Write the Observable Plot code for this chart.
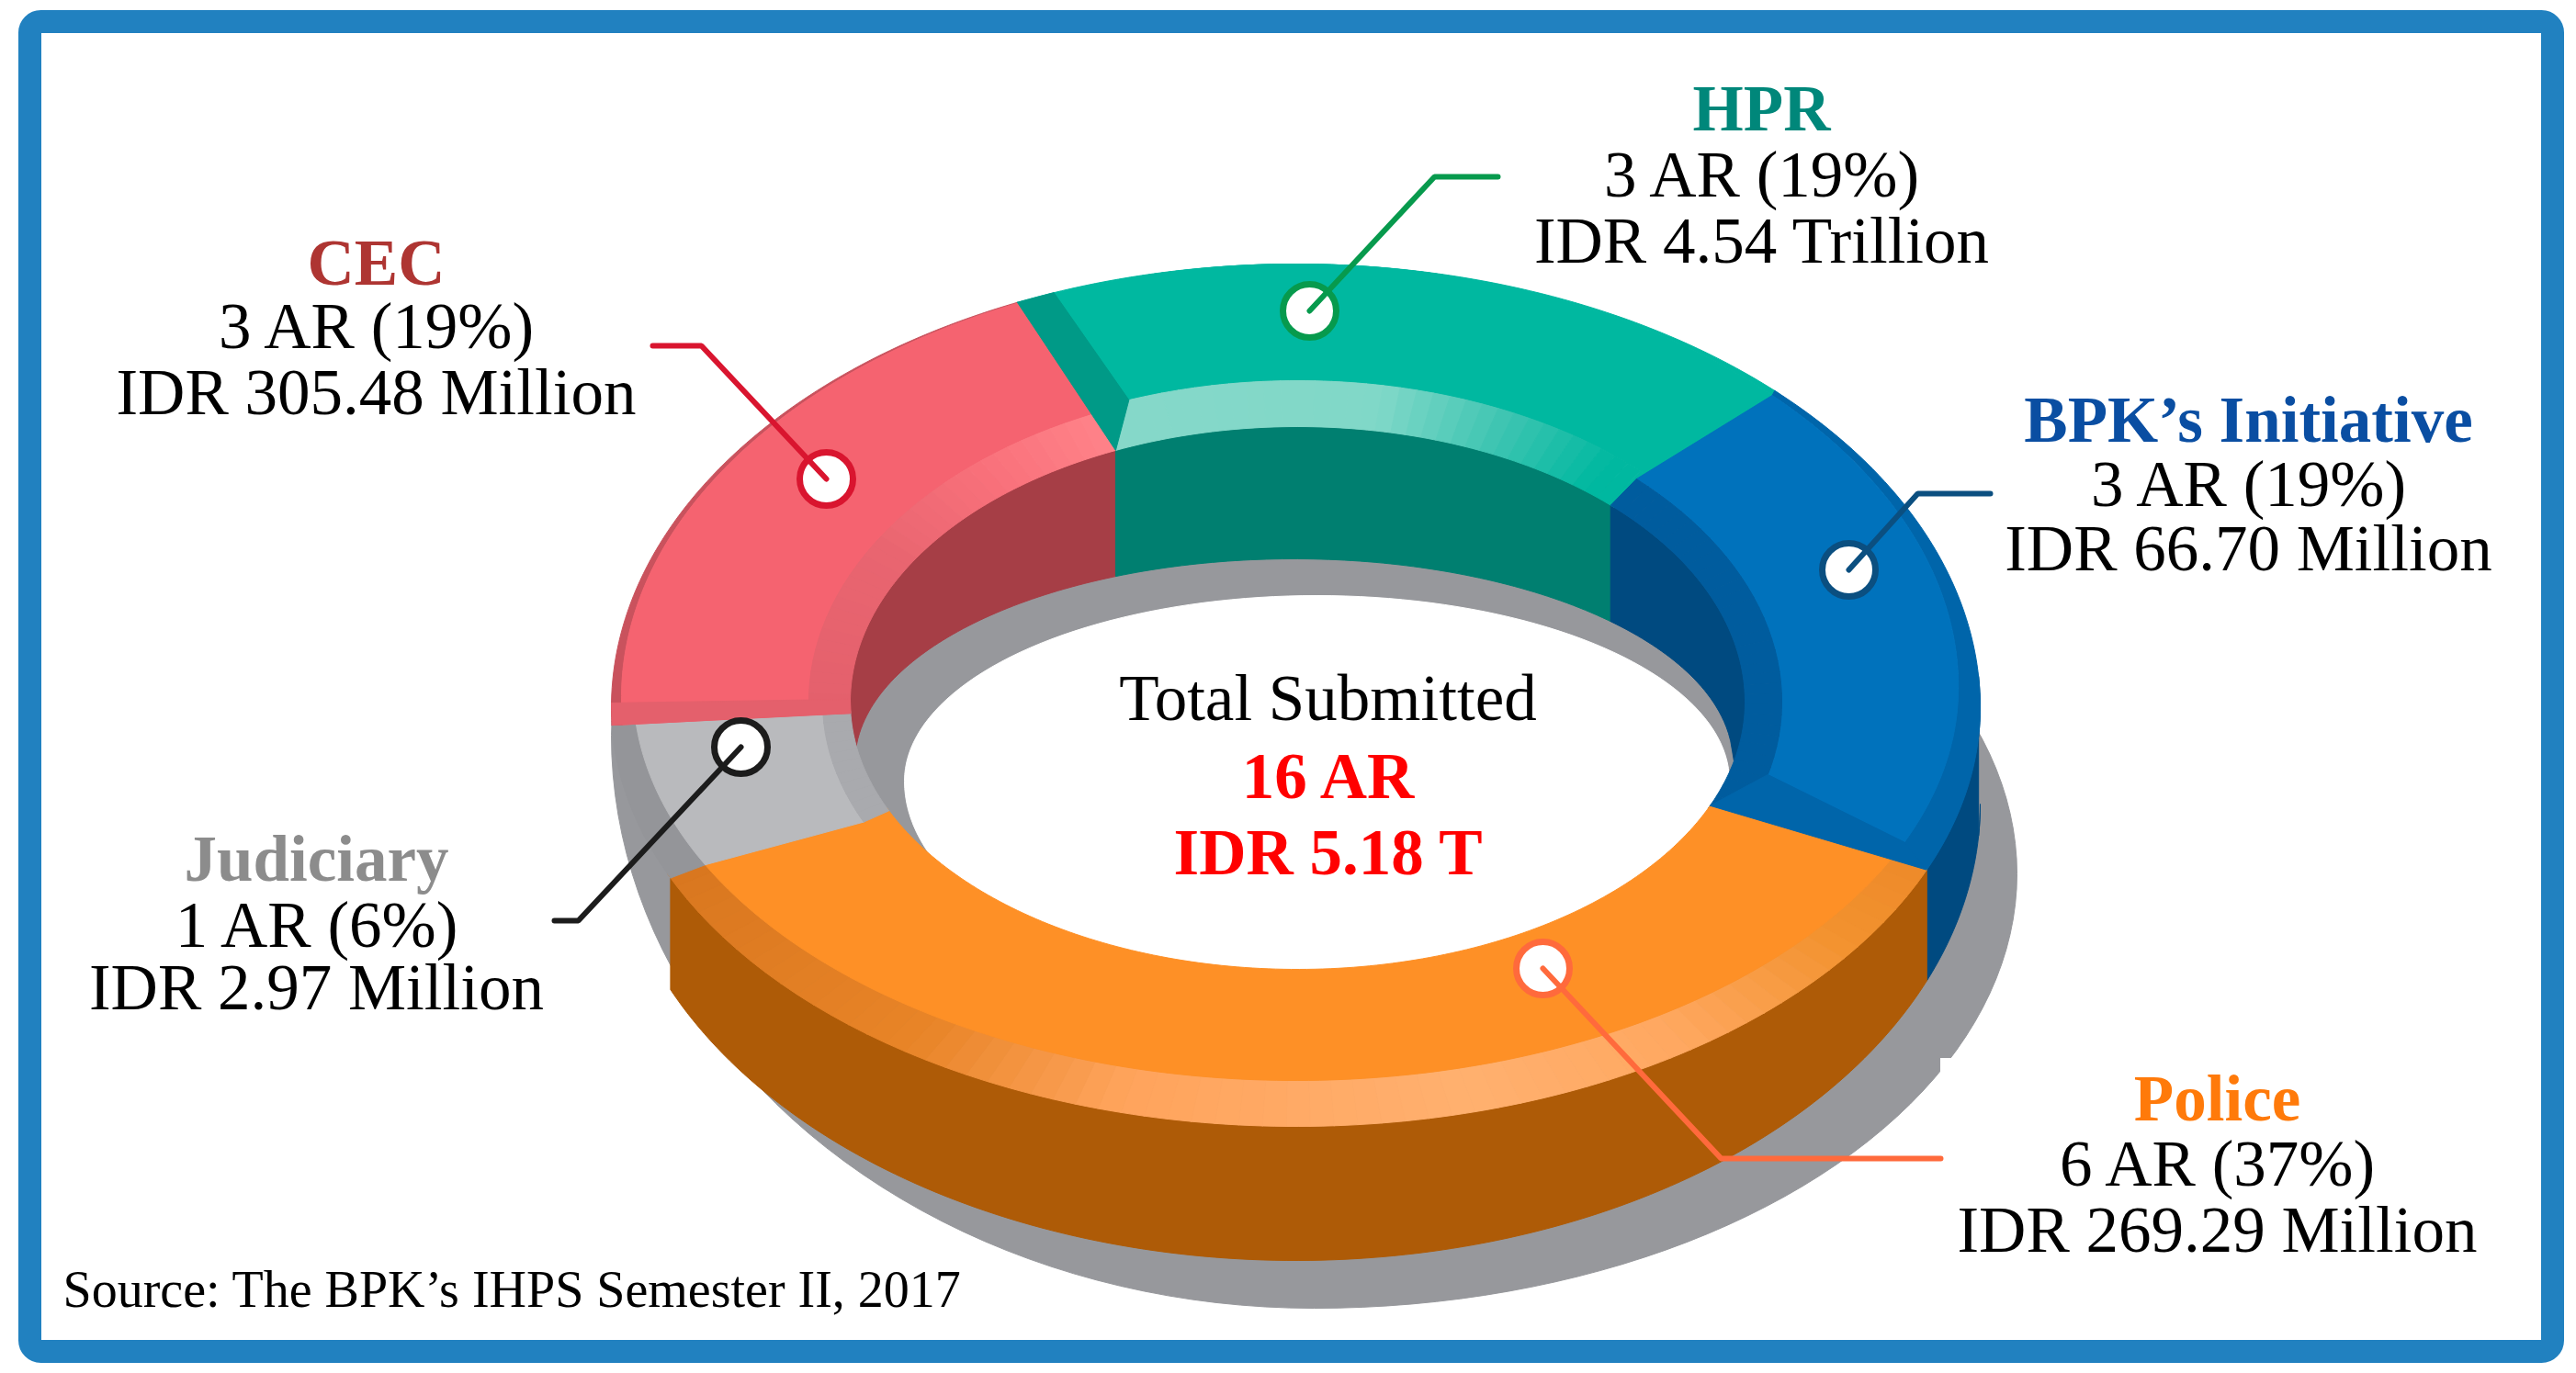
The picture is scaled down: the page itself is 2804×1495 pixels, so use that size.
<!DOCTYPE html>
<html><head><meta charset="utf-8">
<script src="https://cdn.jsdelivr.net/npm/d3@7"></script>
<script src="https://cdn.jsdelivr.net/npm/@observablehq/plot@0.6"></script>
<style>html,body{margin:0;padding:0;background:#fff}svg{display:block}</style>
</head><body>
<script>
// ---- values ----
const categories = ["HPR", "BPK’s Initiative", "Police", "Judiciary", "CEC"];
const reports = [3, 3, 6, 1, 3];
const shares = [19, 19, 37, 6, 19];
const amounts = ["4.54 Trillion", "66.70 Million", "269.29 Million", "2.97 Million", "305.48 Million"];
const centerLines = ["Total Submitted", "16 AR", "IDR 5.18 T"];
const sourceNote = "Source: The BPK’s IHPS Semester II, 2017";

// ---- styling ----
const titleColors = ["#00877a", "#0a4ea2", "#ff7a0a", "#8c8c8c", "#ae3532"];
const leaderColors = ["#079a4d", "#0b4f80", "#ff6a3c", "#1c1c1c", "#d9152f"];
const flatColors = ["#00b8a0", "#0072bc", "#fe9026", "#b9babd", "#f56370"];
const edgeColors = ["#00b8a0", "#0065aa", null, "#949599", "#c9525d"];
const edgeScale = [1, 1, 1, 1, 0.45];
const wallColors = ["#007f70", "#004a80", null, "#97989c", "#a63e46"];
const innerWidths = [50, 40, 0, 30, 45];
const innerStops = [
  [[-24, 10, 25, 40, 45], ["#86d8c9", "#80d8c8", "#3fc5b2", "#00b8a0", "#00b8a0"]],
  [[44, 113], ["#005c9e", "#005c9e"]],
  null,
  [[246, 268], ["#a9aaae", "#a9aaae"]],
  [[268, 300, 320, 336], ["#e4606c", "#e96570", "#f9717b", "#ff8389"]]
];
const policeEdgeStops = [[113, 125, 145, 165, 195, 215, 246],
  ["#ee8a2a", "#f2922e", "#ffa860", "#ffb06f", "#ffa45c", "#e88427", "#d9771f"]];
const sideColors = { 1: "#004a80", 2: "#ae5b07" };

// ---- ring projection ----
const startAngle = -24;
const rad = d => d * Math.PI / 180;
const outer = { cx: 1410, rx: 745, cy: 770, ryT: 483, ryB: 456 };
const inner = { cx: 1412, rx: 487, cy: 764, ryT: 300, ryB: 291 };
const wallFoot = { cx: 1408, rx: 478, cy: 830, ry: 222 };
const sideFoot = { cx: 1410, rx: 745, cy: 875, ry: 497 };
const hole = { cx: 1433, rx: 449, cy: 850, ryT: 202, ryB: 232 };

const onEll = (e, t) => {
  const c = Math.cos(rad(t));
  return [e.cx + e.rx * Math.sin(rad(t)), e.cy - (c > 0 ? e.ryT : e.ryB) * c];
};
const flatEdge = k => t => {
  const c = Math.cos(rad(t)), w = k * Math.pow((1 - c) / 2, 1.5), v = k * (1 - c) / 2;
  return [outer.cx + (outer.rx - 70 * w) * Math.sin(rad(t)),
          outer.cy - ((c > 0 ? outer.ryT : outer.ryB) - 50 * v) * c];
};
const onInnerBand = (t, b) => onEll({ ...inner, rx: inner.rx + b, ryT: inner.ryT + b, ryB: inner.ryB + b }, t);
const footY = (e, x, sign) => e.cy + sign * e.ry * Math.sqrt(Math.max(0, 1 - ((x - e.cx) / e.rx) ** 2));
const seq = (a, b, s = 1) => { const o = d3.range(a, b, s); o.push(b); return o; };

const rows = [];
let faceId = 0;
const addFace = (pts, fill) => {
  const id = faceId++;
  for (const [x, y] of pts) rows.push({ id, x, y, fill });
  rows.push({ id, x: pts[0][0], y: pts[0][1], fill });
};
const bandPts = (a, b, f, g) => [...seq(a, b).map(f), ...seq(a, b).reverse().map(g)];

// ground shadow and hole
const shadowPts = seq(0, 360, 2).map(t => {
  const right = t <= 180, c = Math.cos(rad(t));
  const cy = right ? 951 : 800, ry = right ? 473 : (c > 0 ? 322 : 624);
  return [1430 + 765 * Math.sin(rad(t)), cy - ry * c];
});
addFace(shadowPts, "#97989c");
addFace(seq(0, 360, 2).map(t => onEll(hole, t)), "#ffffff");

// slice angles come from the shares
const spans = [];
let acc = startAngle;
shares.forEach(s => { spans.push([acc, acc + s / 100 * 360]); acc += s / 100 * 360; });

// far inner walls (seen through the hole)
[4, 0, 1].forEach(i => {
  let [a, b] = spans[i];
  if (i === 4) { a -= 360; b -= 360; }
  if (i === 1) b = 95;
  const top = seq(a, b).map(t => onEll(inner, t));
  const foot = top.slice().reverse().map(([x, y]) => [x, Math.max(y, footY(wallFoot, x, -1))]);
  addFace([...top, ...foot], wallColors[i]);
});

// outer side walls
[[1, 86, spans[1][1]], [2, spans[2][0], spans[2][1]]].forEach(([i, a, b]) => {
  const top = seq(a, b).map(t => onEll(outer, t));
  const foot = top.slice().reverse().map(([x, y]) => [x, Math.max(y, footY(sideFoot, x, 1))]);
  addFace([...top, ...foot], sideColors[i]);
});

// top faces: each overlaps the next slice a little, which is painted after it
spans.forEach(([a, b0], i) => {
  const b = i < 4 ? b0 + 0.6 : b0;
  const w = innerWidths[i], onFlatEdge = flatEdge(edgeScale[i]);
  if (edgeColors[i]) {
    addFace(bandPts(a, b, t => onEll(outer, t), onFlatEdge), edgeColors[i]);
  } else {
    const col = d3.scaleLinear().domain(policeEdgeStops[0]).range(policeEdgeStops[1]).interpolate(d3.interpolateRgb);
    for (let t = a; t < b; t += 2) {
      const e = Math.min(t + 2, b);
      addFace(bandPts(t, e, u => onEll(outer, u), onFlatEdge), col((t + e) / 2));
    }
  }
  addFace(bandPts(a, b, onFlatEdge, t => onInnerBand(t, w)), flatColors[i]);
  if (innerStops[i]) {
    const col = d3.scaleLinear().domain(innerStops[i][0]).range(innerStops[i][1]).interpolate(d3.interpolateRgb);
    for (let t = a; t < b; t += 2) {
      const e = Math.min(t + 2, b);
      addFace(bandPts(t, e, u => onInnerBand(u, w), u => onEll(inner, u)), col((t + e) / 2));
    }
  }
});

// radial facets at slice joints
const [hprA] = spans[0], bpkB = spans[1][1], cecA = spans[4][0];
addFace([onEll(outer, hprA), onEll(outer, hprA + 3.3), onInnerBand(hprA + 4, innerWidths[0]), onEll(inner, hprA)], "#009a87");
addFace([onEll(inner, bpkB), onEll(outer, bpkB), flatEdge(1)(bpkB - 2.5), onInnerBand(bpkB - 9, innerWidths[1])], "#0065aa");
addFace([onEll(outer, cecA), onEll(inner, cecA), onEll(inner, cecA + 3), onEll(outer, cecA + 3)], "#e4606c");

// ---- callouts (layout) ----
const markerAt = [[1425, 338], [2012, 620], [1679, 1054], [806, 813], [899, 521]];
const elbowAt = [[1561, 192], [2087, 537], [1873, 1261], [629, 1002], [763, 376]];
const tailAt = [[1630, 192], [2166, 537], [2112, 1261], [603, 1002], [710, 376]];
const labelX = [1917, 2447, 2413, 344, 409];
const labelBase = [[141, 213, 285], [480, 550, 620], [1219, 1290, 1362], [958, 1030, 1098], [309, 378, 450]];

const markers = categories.map((c, i) => ({ x: markerAt[i][0], y: markerAt[i][1], color: leaderColors[i] }));
const leaders = categories.flatMap((c, i) => [tailAt[i], elbowAt[i], markerAt[i]].map(([x, y]) => ({ c, x, y, color: leaderColors[i] })));
const titleRows = categories.map((c, i) => ({ text: c, x: labelX[i], y: labelBase[i][0], color: titleColors[i] }));
const detailRows = categories.flatMap((c, i) => [
  { text: `${reports[i]} AR (${shares[i]}%)`, x: labelX[i], y: labelBase[i][1] },
  { text: `IDR ${amounts[i]}`, x: labelX[i], y: labelBase[i][2] }
]);
const serif = "Liberation Serif";
const textOpts = { x: "x", y: "y", text: "text", lineAnchor: "bottom", fontFamily: serif };

const chart = Plot.plot({
  width: 2804, height: 1495, margin: 0,
  x: { domain: [0, 2804], range: [0, 2804], axis: null },
  y: { domain: [0, 1495], range: [0, 1495], axis: null },
  color: { type: "identity" },
  style: { background: "#fff" },
  marks: [
    Plot.line(rows, { x: "x", y: "y", z: "id", fill: "fill", stroke: "fill", strokeWidth: 1 }),
    Plot.rect([{ x1: 2112, x2: 2700, y1: 1152, y2: 1400 }], { x1: "x1", x2: "x2", y1: "y1", y2: "y2", fill: "#fff" }),
    Plot.dot(markers, { x: "x", y: "y", r: 29, fill: "#fff", stroke: "color", strokeWidth: 7 }),
    Plot.line(leaders, { x: "x", y: "y", z: "c", stroke: "color", strokeWidth: 6, strokeLinejoin: "miter" }),
    Plot.text(titleRows, { ...textOpts, fill: "color", fontSize: 71, fontWeight: "bold" }),
    Plot.text(detailRows, { ...textOpts, fill: "#000", fontSize: 71 }),
    Plot.text([{ text: centerLines[0], x: 1445, y: 783 }], { ...textOpts, fill: "#000", fontSize: 71 }),
    Plot.text([{ text: centerLines[1], x: 1445, y: 868 }, { text: centerLines[2], x: 1445, y: 951 }], { ...textOpts, fill: "#ff0000", fontSize: 71, fontWeight: "bold" }),
    Plot.text([{ text: sourceNote, x: 68, y: 1422 }], { ...textOpts, textAnchor: "start", fill: "#000", fontSize: 56 }),
    Plot.frame({ stroke: "#2181c0", strokeWidth: 25, insetLeft: 32, insetTop: 23, insetRight: 26, insetBottom: 24, rx: 12 })
  ]
});
document.body.appendChild(chart);
</script>
</body></html>
